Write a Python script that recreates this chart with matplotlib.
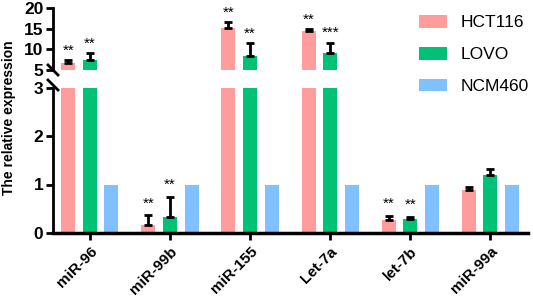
import matplotlib
matplotlib.use("Agg")
import matplotlib.pyplot as plt
from matplotlib.patches import Patch
import numpy as np

plt.rcParams['font.family'] = ['Liberation Sans', 'DejaVu Sans']

categories = ["miR-96", "miR-99b", "miR-155", "Let-7a", "let-7b", "miR-99a"]
series_names = ["HCT116", "LOVO", "NCM460"]
hct116 = [6.6, 0.16, 15.2, 14.4, 0.27, 0.89]
hct116_err = [0.8, 0.21, 1.3, 0.4, 0.09, 0.065]
lovo = [7.4, 0.34, 8.5, 9.0, 0.29, 1.19]
lovo_err = [1.6, 0.41, 3.0, 2.6, 0.05, 0.12]
ncm460 = [1, 1, 1, 1, 1, 1]
ncm460_err = [0, 0, 0, 0, 0, 0]
hct116_sig = ["**", "**", "**", "**", "**", ""]
lovo_sig = ["**", "**", "**", "***", "**", ""]
ncm460_sig = ["", "", "", "", "", ""]
top_ticks = [5, 10, 15, 20]
bottom_ticks = [0, 1, 2, 3]

colors = ["#FF9C9C", "#00C176", "#80C0FF"]
values = [hct116, lovo, ncm460]
errors = [hct116_err, lovo_err, ncm460_err]
sigs = [hct116_sig, lovo_sig, ncm460_sig]

W, H = 533, 299
fig = plt.figure(figsize=(W / 100, H / 100), dpi=100)

def frac_box(x0, x1, ytop, ybot):
    return [x0 / W, 1 - ybot / H, (x1 - x0) / W, (ybot - ytop) / H]

ax_top = fig.add_axes(frac_box(53, 528, 8, 70))
ax_bot = fig.add_axes(frac_box(53, 528, 87.5, 233))

x = np.arange(len(categories))
slot = 0.27
width = 0.175
lw = 2.0

for ax, (lo, hi) in [(ax_top, (5, 20)), (ax_bot, (0, 3))]:
    for i, (vals, errs, col, sg) in enumerate(zip(values, errors, colors, sigs)):
        xs = x + (i - 1) * slot
        ax.bar(xs, vals, width=width, color=col, linewidth=0, zorder=2)
        for xi, v, e, s in zip(xs, vals, errs, sg):
            if e > 0:
                ax.errorbar([xi], [v], yerr=[[0], [e]], fmt='none', ecolor='black',
                            elinewidth=2.0, capsize=3.0, capthick=2.0, zorder=3)
            if s and lo <= v + e <= hi:
                off = (hi - lo) * (0.04 if ax is ax_top else 0.03)
                ax.text(xi, v + e + off, s, ha='center', va='bottom',
                        fontsize=11, color='black', zorder=4)
    ax.set_ylim(lo, hi)
    ax.set_xlim(-0.46, 5.47)
    for sp in ['top', 'right']:
        ax.spines[sp].set_visible(False)
    ax.spines['left'].set_linewidth(lw)
    ax.tick_params(axis='y', width=lw, length=5, pad=2)

ax_top.spines['bottom'].set_visible(False)
ax_top.set_xticks([])
ax_top.set_yticks(top_ticks)
ax_top.set_yticklabels([str(t) for t in top_ticks], fontweight='bold', fontsize=12.5)
for t in ax_top.texts:
    t.set_clip_on(False)

ax_bot.set_yticks(bottom_ticks)
ax_bot.set_yticklabels([str(t) for t in bottom_ticks], fontweight='bold', fontsize=12.5)
ax_bot.spines['bottom'].set_linewidth(2.5)
ax_bot.set_xticks(x)
ax_bot.set_xticklabels(categories, rotation=45, ha='right', rotation_mode='anchor',
                       fontweight='bold', fontsize=11)
ax_bot.tick_params(axis='x', width=lw, length=5, pad=3)

# break marks
d = 5
for yb in [70, 85]:
    xc = 53
    fig.add_artist(plt.Line2D([(xc - d) / W, (xc + d) / W],
                              [1 - (yb - d) / H, 1 - (yb + d) / H],
                              color='black', lw=2.0, transform=fig.transFigure))

fig.text(9 / W, 1 - 118 / H, "The relative expression", rotation=90,
         ha='center', va='center', fontsize=10, fontweight='bold')

handles = [Patch(facecolor=c, edgecolor='none') for c in colors]
fig.legend(handles, series_names, loc='upper left', bbox_to_anchor=(412 / W, 1 - 8 / H),
           frameon=False, fontsize=12.5, handlelength=1.6, handleheight=0.75,
           labelspacing=0.95, handletextpad=0.8, borderaxespad=0)

fig.savefig("out.png", dpi=100)
